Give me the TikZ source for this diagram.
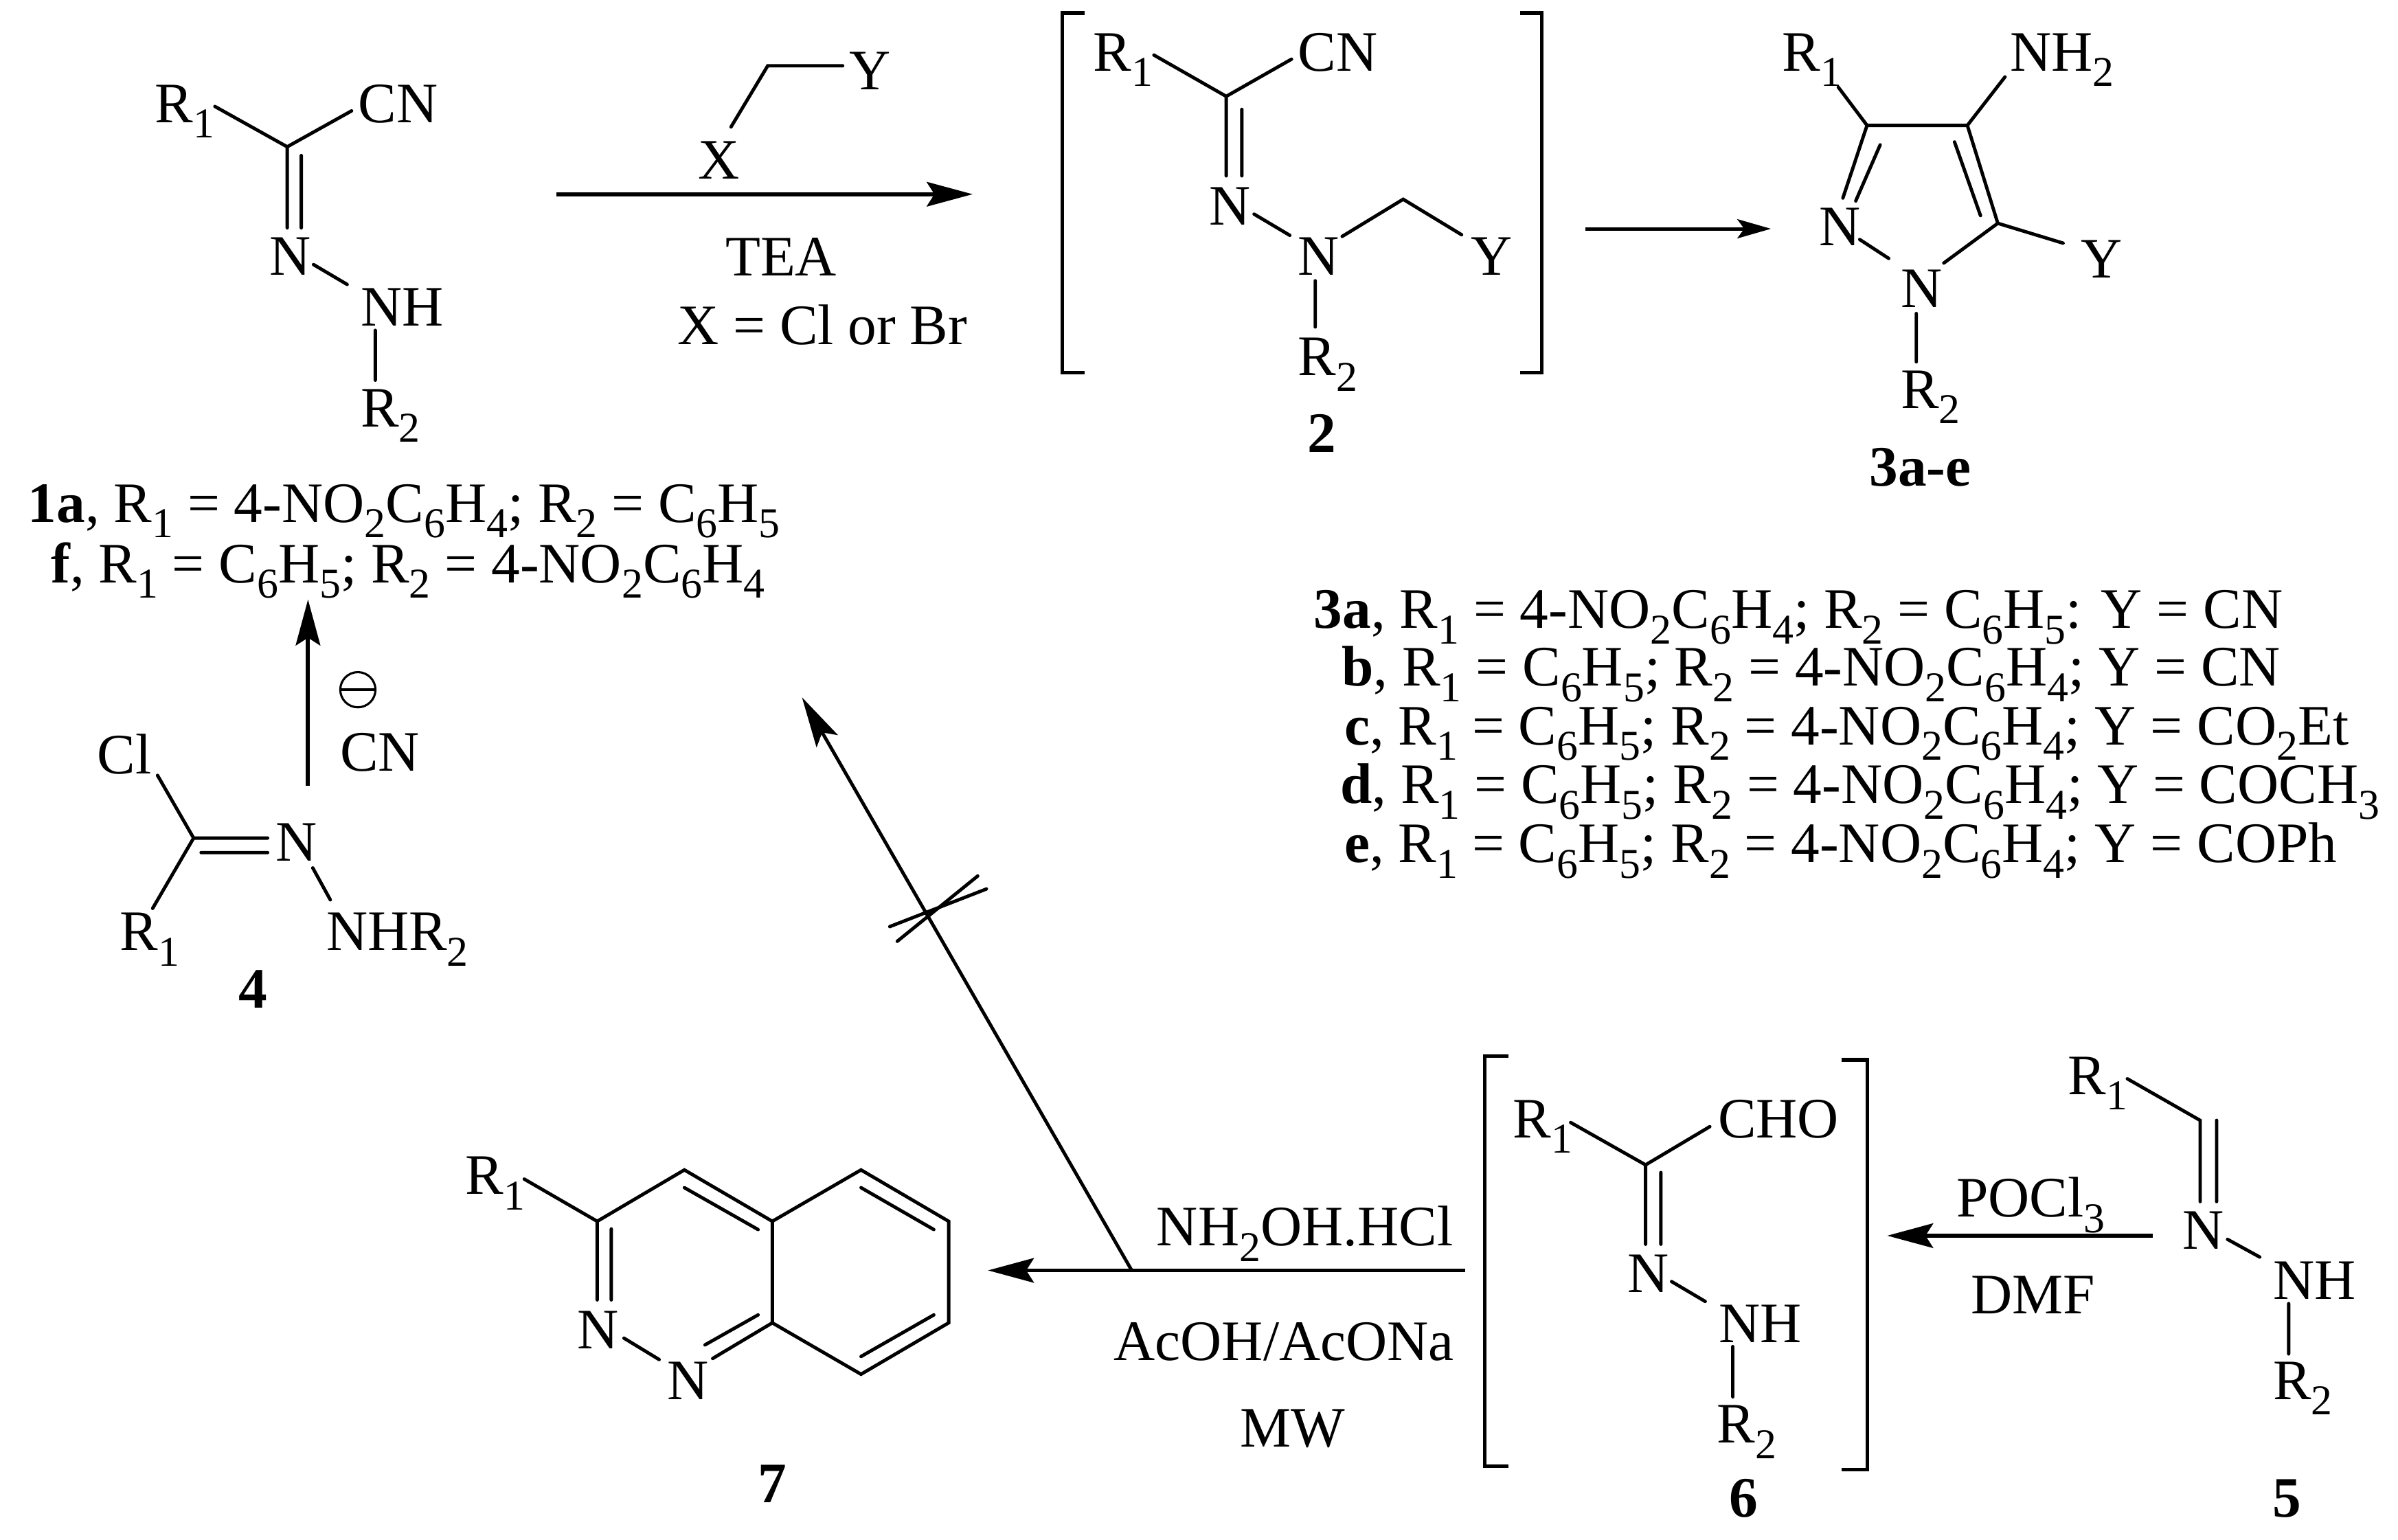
\documentclass[tikz,border=0pt]{standalone}
\usepackage{fontspec}
\setmainfont{Liberation Serif}
\usetikzlibrary{arrows.meta}
\newcommand\sbs[1]{\raisebox{-0.27em}[0pt][0pt]{\fontsize{15.8}{15.8}\selectfont #1}}
\newcommand\pnt[2]{\coordinate (#1) at (#2);}
\tikzset{
  txt/.style={anchor=base west,inner sep=0pt,font=\fontsize{21.3}{24}\selectfont},
  cnum/.style={anchor=base,inner sep=0pt,font=\fontsize{21.3}{24}\selectfont\bfseries},
  bond/.style={line width=1.25pt,line cap=round,line join=miter},
  brk/.style={line width=1.35pt,line cap=butt,line join=miter},
  rxn/.style={line width=1.5pt,-{Stealth[length=0.6cm,width=0.32cm,inset=0.1cm]}},
  rxnsmall/.style={line width=1.25pt,-{Stealth[length=0.44cm,width=0.25cm,inset=0.09cm]}},
  rxnthin/.style={line width=1.25pt,-{Stealth[length=0.66cm,width=0.32cm,inset=0.13cm]}},
}
\begin{document}
\begin{tikzpicture}[x=0.02cm,y=-0.02cm]
\useasboundingbox (0,0) rectangle (1568,1007);
\fill[white] (0,0) rectangle (1568,1007);
%%% compound 1
\node[txt] (aR1) at (101,80) {R\sbs{1}};
\node[txt] (aCN) at (234,80) {CN};
\node[txt] (aN) at (176,180) {N};
\node[txt] (aNH) at (235.5,213) {NH};
\node[txt] (aR2) at (235.5,279) {R\sbs{2}};
\pnt{a1}{140.5,69.6}\pnt{a2}{187.8,96}\pnt{a3}{229.9,72.5}\pnt{a4}{187.8,149}\pnt{a5}{197,101.7}\pnt{a6}{197,149}\pnt{a7}{205,173}\pnt{a8}{227,186}\pnt{a9}{245.4,216}\pnt{a10}{245.4,248.6}
\draw[bond] (a1)--(a2)--(a3) (a2)--(a4) (a5)--(a6) (a7)--(a8) (a9)--(a10);
%%% reagent
\node[txt] (bX) at (456,117) {X};
\node[txt] (bY) at (555,58.7) {Y};
\pnt{b1}{478,83}\pnt{b2}{502,43}\pnt{b3}{551,43}
\draw[bond] (b1)--(b2)--(b3);
\pnt{r1s}{364,127}\pnt{r1e}{636,127}
\draw[rxn] (r1s)--(r1e);
\node[txt] (tTEA) at (474,180.4) {TEA};
\node[txt] (tXeq) at (442.6,225.4) {X = Cl or Br};
%%% list 1
\node[txt] (l1a) at (18,341.4) {\textbf{1a}, R\sbs{1} = 4-NO\sbs{2}C\sbs{6}H\sbs{4}; R\sbs{2} = C\sbs{6}H\sbs{5}};
\node[txt] (l1f) at (33,381) {\textbf{f}, R\sbs{1} = C\sbs{6}H\sbs{5}; R\sbs{2} = 4-NO\sbs{2}C\sbs{6}H\sbs{4}};
%%% arrow 4 -> 1
\pnt{r2s}{201.4,513.7}\pnt{r2e}{201.4,392}
\draw[rxn] (r2s)--(r2e);
\node[draw,circle,line width=0.8pt,minimum size=0.46cm,inner sep=0pt] (minus) at (234,451) {};
\draw[line width=0.9pt] ([xshift=-6.5]minus.center)--([xshift=6.5]minus.center);
\node[txt] (tCN) at (222,504) {CN};
%%% compound 4
\node[txt] (dCl) at (63.3,506) {Cl};
\node[txt] (dR1) at (78,621.5) {R\sbs{1}};
\node[txt] (dN) at (180,563) {N};
\node[txt] (dNHR) at (213,621.5) {NHR\sbs{2}};
\node[cnum] (n4) at (165.5,659) {4};
\pnt{d1}{103,507}\pnt{d2}{126.6,548}\pnt{d3}{99.8,594}\pnt{d4}{175,548}\pnt{d5}{131.5,557.5}\pnt{d6}{175,557.5}\pnt{d7}{204.5,567.5}\pnt{d8}{216,588.4}
\draw[bond] (d1)--(d2)--(d3) (d2)--(d4) (d5)--(d6) (d7)--(d8);
%%% blocked arrow
\pnt{r3s}{740,830.7}\pnt{r3e}{524.4,456}
\draw[rxnthin] (r3s)--(r3e);
\pnt{x1}{581.8,605.9}\pnt{x2}{645,581.3}\pnt{x3}{586.7,615.5}\pnt{x4}{639.3,572.8}
\draw[bond] (x1)--(x2) (x3)--(x4);
%%% arrow to 7
\pnt{r4s}{958,830.7}\pnt{r4e}{646,830.7}
\draw[rxn] (r4s)--(r4e);
\node[txt] (tNH) at (756,814.7) {NH\sbs{2}OH.HCl};
\node[txt] (tAc) at (728,889.6) {AcOH/AcONa};
\node[txt] (tMW) at (810.5,946.3) {MW};
%%% compound 7
\node[txt] (gR1) at (304,781) {R\sbs{1}};
\node[txt] (gN2) at (377.3,882) {N};
\node[txt] (gN1) at (435.8,915) {N};
\node[cnum] (n7) at (505,982.6) {7};
\pnt{g0}{342.8,771}\pnt{g3}{390.5,798.6}\pnt{g4}{447.5,765}\pnt{g4a}{505,798.6}\pnt{g5}{563,765}\pnt{g6}{620.3,798.6}\pnt{g7}{620.3,865}\pnt{g8}{563,898.6}\pnt{g8a}{505,865}\pnt{gn}{390.5,850}
\pnt{gi1}{399.7,803.6}\pnt{gi2}{399.7,850}\pnt{gb1}{408,875}\pnt{gb2}{431,889}\pnt{gb3}{466,888.3}\pnt{gi3}{461,879.4}\pnt{gi4}{495.7,859.8}
\pnt{gi5}{447.5,776.6}\pnt{gi6}{495.7,804}\pnt{gi7}{563,776.6}\pnt{gi8}{610.6,804}\pnt{gi9}{610.6,859.8}\pnt{gi10}{563,887}
\draw[bond] (g0)--(g3)--(g4)--(g4a)--(g5)--(g6)--(g7)--(g8)--(g8a)--(g4a) (g3)--(gn) (gi1)--(gi2) (gb1)--(gb2) (gb3)--(g8a) (gi3)--(gi4) (gi5)--(gi6) (gi7)--(gi8) (gi9)--(gi10);
%%% compound 6
\pnt{e1}{986.4,690.7}\pnt{e2}{970.7,690.7}\pnt{e3}{970.7,958.8}\pnt{e4}{986.4,958.8}
\pnt{e5}{1204,693}\pnt{e6}{1221,693}\pnt{e7}{1221,961}\pnt{e8}{1204,961}
\draw[brk] (e1)--(e2)--(e3)--(e4) (e5)--(e6)--(e7)--(e8);
\node[txt] (eR1) at (989,744) {R\sbs{1}};
\node[txt] (eCHO) at (1123,744) {CHO};
\node[txt] (eN) at (1064,845) {N};
\node[txt] (eNH) at (1123.5,878) {NH};
\node[txt] (eR2) at (1122.4,943.6) {R\sbs{2}};
\node[cnum] (n6) at (1140,992) {6};
\pnt{f1}{1027,734}\pnt{f2}{1076,761.7}\pnt{f3}{1118,736.7}\pnt{f4}{1076,813.6}\pnt{f5}{1086,766.7}\pnt{f6}{1086,813.6}\pnt{f7}{1093,838}\pnt{f8}{1115,851}\pnt{f9}{1133,880.5}\pnt{f10}{1133,913.4}
\draw[bond] (f1)--(f2)--(f3) (f2)--(f4) (f5)--(f6) (f7)--(f8) (f9)--(f10);
%%% arrow 5 -> 6
\pnt{r5s}{1407.7,808}\pnt{r5e}{1234,808}
\draw[rxn] (r5s)--(r5e);
\node[txt] (tPO) at (1279,795.7) {POCl\sbs{3}};
\node[txt] (tDMF) at (1288.6,859) {DMF};
%%% compound 5
\node[txt] (hR1) at (1352,715.6) {R\sbs{1}};
\node[txt] (hN) at (1426.7,816.6) {N};
\node[txt] (hNH) at (1486,849.5) {NH};
\node[txt] (hR2) at (1486,915) {R\sbs{2}};
\node[cnum] (n5) at (1495.5,992) {5};
\pnt{h1}{1391,705.4}\pnt{h2}{1438.6,732.6}\pnt{h3}{1438.6,785.7}\pnt{h4}{1449.4,732.6}\pnt{h5}{1449.4,785.7}\pnt{h6}{1456.5,810.4}\pnt{h7}{1477.6,822}\pnt{h8}{1496.5,852.4}\pnt{h9}{1496.5,885.3}
\draw[bond] (h1)--(h2)--(h3) (h4)--(h5) (h6)--(h7) (h8)--(h9);
%%% compound 2
\pnt{c1}{709,8.5}\pnt{c2}{694.6,8.5}\pnt{c3}{694.6,243.6}\pnt{c4}{709,243.6}
\pnt{c5}{994,8.5}\pnt{c6}{1008,8.5}\pnt{c7}{1008,243.6}\pnt{c8}{994,243.6}
\draw[brk] (c1)--(c2)--(c3)--(c4) (c5)--(c6)--(c7)--(c8);
\node[txt] (cR1) at (714.5,46.4) {R\sbs{1}};
\node[txt] (cCN) at (848.5,46.4) {CN};
\node[txt] (cN1) at (790.4,147) {N};
\node[txt] (cN2) at (848.5,179.8) {N};
\node[txt] (cY) at (961.4,179.8) {Y};
\node[txt] (cR2) at (848.5,245.5) {R\sbs{2}};
\node[cnum] (n2) at (864.5,295.7) {2};
\pnt{k1}{754.5,36}\pnt{k2}{801.8,63}\pnt{k3}{844.5,38.7}\pnt{k4}{801.8,115}\pnt{k5}{812,71.5}\pnt{k6}{812,115}\pnt{k7}{820,140}\pnt{k8}{843.4,153.9}\pnt{k9}{877.6,154.6}\pnt{k10}{917.5,130.3}\pnt{k11}{955.7,153.5}\pnt{k12}{860,183.6}\pnt{k13}{860,213.8}
\draw[bond] (k1)--(k2)--(k3) (k2)--(k4) (k5)--(k6) (k7)--(k8) (k9)--(k10)--(k11) (k12)--(k13);
\pnt{r6s}{1036.7,149.6}\pnt{r6e}{1158,149.6}
\draw[rxnsmall] (r6s)--(r6e);
%%% compound 3
\node[txt] (mR1) at (1165,46.4) {R\sbs{1}};
\node[txt] (mNH) at (1314,46.4) {NH\sbs{2}};
\node[txt] (mN2) at (1189.4,160.4) {N};
\node[txt] (mN1) at (1242.5,201) {N};
\node[txt] (mY) at (1360.5,181.7) {Y};
\node[txt] (mR2) at (1242.5,266.8) {R\sbs{2}};
\node[cnum,anchor=base west] (n3) at (1222,317.8) {3a-e};
\pnt{m1}{1202,57}\pnt{m2}{1220.8,82}\pnt{m3}{1286.4,82}\pnt{m4}{1311,50.3}\pnt{m5}{1306.3,146}\pnt{m6}{1278,92.8}\pnt{m7}{1295,141}\pnt{m8}{1205,129.5}\pnt{m9}{1229.4,94.7}\pnt{m10}{1213.4,131.4}\pnt{m11}{1216,156.6}\pnt{m12}{1235,169}\pnt{m13}{1271,172}\pnt{m14}{1349,159}\pnt{m15}{1253,205}\pnt{m16}{1253,236.6}
\draw[bond] (m1)--(m2)--(m3)--(m4) (m3)--(m5)--(m14) (m5)--(m13) (m6)--(m7) (m2)--(m8) (m9)--(m10) (m11)--(m12) (m15)--(m16);
%%% list 3
\node[txt] (l3a) at (858.8,410.8) {\textbf{3a}, R\sbs{1} = 4-NO\sbs{2}C\sbs{6}H\sbs{4}; R\sbs{2} = C\sbs{6}H\sbs{5}: Y = CN};
\node[txt] (l3b) at (877,448.7) {\textbf{b}, R\sbs{1} = C\sbs{6}H\sbs{5}; R\sbs{2} = 4-NO\sbs{2}C\sbs{6}H\sbs{4}; Y = CN};
\node[txt] (l3c) at (878.7,487) {\textbf{c}, R\sbs{1} = C\sbs{6}H\sbs{5}; R\sbs{2} = 4-NO\sbs{2}C\sbs{6}H\sbs{4}; Y = CO\sbs{2}Et};
\node[txt] (l3d) at (876,525.5) {\textbf{d}, R\sbs{1} = C\sbs{6}H\sbs{5}; R\sbs{2} = 4-NO\sbs{2}C\sbs{6}H\sbs{4}; Y = COCH\sbs{3}};
\node[txt] (l3e) at (878.7,564) {\textbf{e}, R\sbs{1} = C\sbs{6}H\sbs{5}; R\sbs{2} = 4-NO\sbs{2}C\sbs{6}H\sbs{4}; Y = COPh};
\end{tikzpicture}
\end{document}
